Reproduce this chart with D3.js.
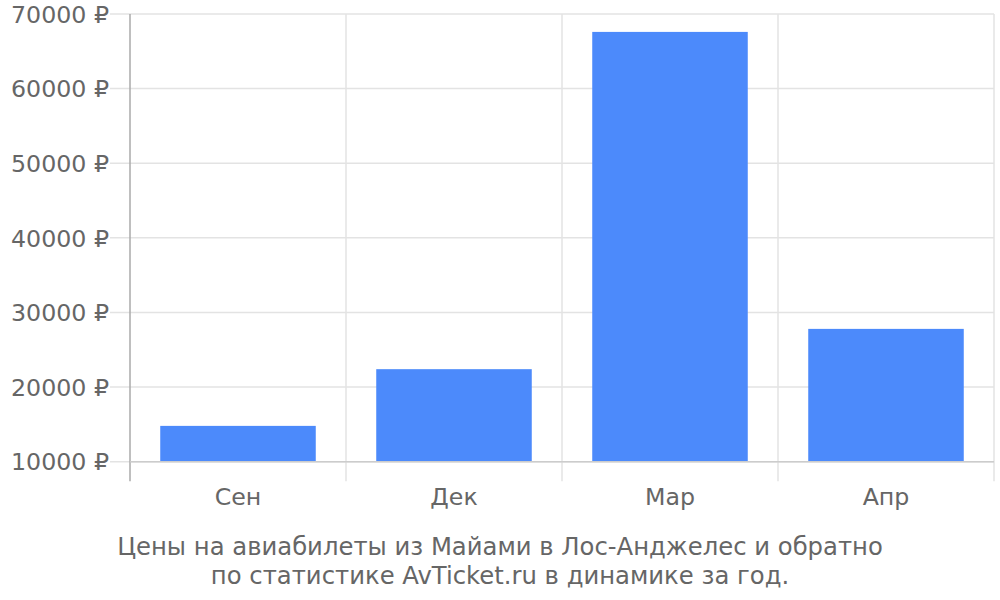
<!DOCTYPE html>
<html>
<head>
<meta charset="utf-8">
<script src="https://cdn.jsdelivr.net/npm/d3@7"></script>
<style>
  body { margin: 0; background: #fff; }
  text { font-family: "DejaVu Sans", sans-serif; fill: #666; }
</style>
</head>
<body>
<svg id="chart" width="1000" height="600"></svg>
<script>
// data
var months = ["Сен", "Дек", "Мар", "Апр"];
var prices = [14800, 22400, 67600, 27800];
var yTicks = [10000, 20000, 30000, 40000, 50000, 60000, 70000];
var titleLines = ["Цены на авиабилеты из Майами в Лос-Анджелес и обратно",
                  "по статистике AvTicket.ru в динамике за год."];

var svg = d3.select("#chart");
var plotLeft = 130, plotRight = 994, plotTop = 14, plotBottom = 461.7;

var x = d3.scaleBand().domain(months).range([plotLeft, plotRight])
  .paddingInner(0.28).paddingOuter(0.14);
var step = x.step();
var y = d3.scaleLinear().domain([10000, 70000]).range([plotBottom, plotTop]);

// horizontal grid
svg.append("g").selectAll("line")
  .data(yTicks)
  .join("line")
  .attr("x1", plotLeft - 20).attr("x2", plotRight)
  .attr("y1", d => y(d)).attr("y2", d => y(d))
  .attr("stroke", "#e3e3e3").attr("stroke-width", 1.5);

// vertical grid at band edges
var edges = months.map((m, i) => plotLeft + i * step).concat([plotRight]);
svg.append("g").selectAll("line")
  .data(edges)
  .join("line")
  .attr("x1", d => d).attr("x2", d => d)
  .attr("y1", plotTop).attr("y2", plotBottom + 19.5)
  .attr("stroke", (d, i) => i === 0 ? "#aaa" : "#e3e3e3")
  .attr("stroke-width", 1.5);

// bars
svg.append("g").selectAll("rect")
  .data(prices)
  .join("rect")
  .attr("x", (d, i) => x(months[i]))
  .attr("width", x.bandwidth())
  .attr("y", d => y(d))
  .attr("height", d => plotBottom - y(d))
  .attr("fill", "#4c8afb");

// baseline
svg.append("line")
  .attr("x1", plotLeft).attr("x2", plotRight)
  .attr("y1", plotBottom).attr("y2", plotBottom)
  .attr("stroke", "#ccc").attr("stroke-width", 1.5);

// y labels
svg.append("g").selectAll("text")
  .data(yTicks)
  .join("text")
  .attr("x", 109).attr("y", d => y(d) + 8.7)
  .attr("text-anchor", "end")
  .style("font-size", "23.7px")
  .text(d => d + " ₽");

// x labels
svg.append("g").selectAll("text")
  .data(months)
  .join("text")
  .attr("x", d => x(d) + x.bandwidth() / 2)
  .attr("y", 505)
  .attr("text-anchor", "middle")
  .style("font-size", "23.7px")
  .text(d => d);

// title
svg.append("g").selectAll("text")
  .data(titleLines)
  .join("text")
  .attr("x", 500).attr("y", (d, i) => 555 + i * 29)
  .attr("text-anchor", "middle")
  .style("font-size", "24.3px")
  .text(d => d);
</script>
</body>
</html>
